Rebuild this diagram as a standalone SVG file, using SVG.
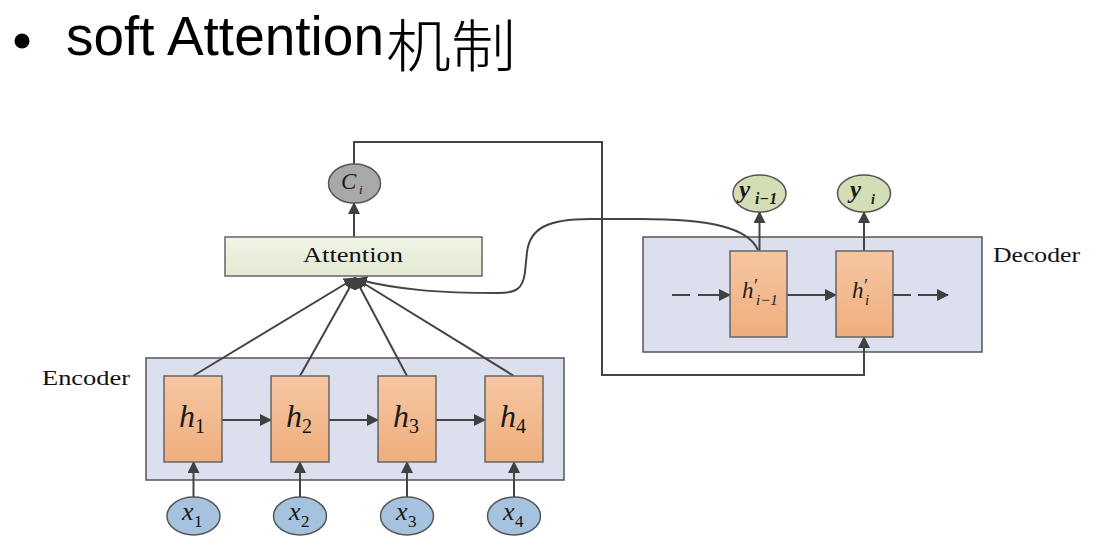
<svg xmlns="http://www.w3.org/2000/svg" width="1116" height="552" viewBox="0 0 1116 552">
<style>
  .ln{fill:none;stroke:#444;stroke-width:2}
  .ar{fill:none;stroke:#444;stroke-width:2;marker-end:url(#ah)}
  .panel{fill:#dce0ee;stroke:#555;stroke-width:1.5}
  .hbox{fill:url(#gOr);stroke:#666;stroke-width:1.5}
  .lab{font-family:"Liberation Serif",serif;fill:#111}
  .it{font-family:"Liberation Serif",serif;font-style:italic;fill:#1a1a1a}
</style>
<defs>
  <marker id="ah" viewBox="0 0 12 12" refX="11" refY="6" markerWidth="12" markerHeight="12" markerUnits="userSpaceOnUse" orient="auto">
    <path d="M0,0 L12,6 L0,12 Z" fill="#404040"/>
  </marker>
  <linearGradient id="gOr" x1="0" y1="0" x2="0" y2="1">
    <stop offset="0" stop-color="#f6c6a2"/>
    <stop offset="1" stop-color="#efae7d"/>
  </linearGradient>
  <linearGradient id="gAtt" x1="0" y1="0" x2="0" y2="1">
    <stop offset="0" stop-color="#f1f4e6"/>
    <stop offset="1" stop-color="#e3e9d2"/>
  </linearGradient>
</defs>
<rect width="1116" height="552" fill="#ffffff"/>

<g id="title">
  <circle cx="22" cy="41" r="7.5" fill="#000"/>
  <text x="66" y="55" font-family="'Liberation Sans',sans-serif" font-size="55" fill="#000" textLength="318" lengthAdjust="spacingAndGlyphs">soft Attention</text>
  <text x="386" y="67" font-family="'Noto Sans CJK SC',sans-serif" font-size="57" font-weight="300" fill="#000" textLength="130" lengthAdjust="spacingAndGlyphs">机制</text>
</g>

<g id="encoder">
  <rect class="panel" x="146" y="358" width="418" height="122"/>
  <text class="lab" x="42" y="385" font-size="20" textLength="88" lengthAdjust="spacingAndGlyphs">Encoder</text>
</g>
<g id="decoder">
  <rect class="panel" x="643" y="237" width="339" height="115"/>
  <text class="lab" x="993" y="262" font-size="20" textLength="87" lengthAdjust="spacingAndGlyphs">Decoder</text>
</g>

<g id="connectors">
  <line class="ar" x1="193.5" y1="497" x2="193.5" y2="462"/>
  <line class="ar" x1="300" y1="497" x2="300" y2="462"/>
  <line class="ar" x1="407" y1="497" x2="407" y2="462"/>
  <line class="ar" x1="514" y1="497" x2="514" y2="462"/>
  <line class="ar" x1="222" y1="420" x2="271" y2="420"/>
  <line class="ar" x1="329" y1="420" x2="378" y2="420"/>
  <line class="ar" x1="436" y1="420" x2="485" y2="420"/>
  <line class="ar" x1="193" y1="376" x2="355" y2="278"/>
  <line class="ar" x1="300" y1="376" x2="355" y2="278"/>
  <line class="ar" x1="407" y1="376" x2="355" y2="278"/>
  <line class="ar" x1="514" y1="376" x2="355" y2="278"/>
  <line class="ar" x1="354" y1="237" x2="354" y2="203"/>
  <path class="ar" d="M354,164 L354,142 L602,142 L602,375 L864,375 L864,337"/>
  <path class="ar" d="M758,250 C748,228 712,219 640,219 L590,219 C548,219 530,228 527,252 L525,272 C523,289 516,293 498,293 C440,293 398,290 356,279"/>
  <line class="ln" x1="672" y1="295" x2="690" y2="295"/>
  <line class="ar" x1="698" y1="295" x2="730" y2="295"/>
  <line class="ar" x1="787" y1="295" x2="836" y2="295"/>
  <line class="ln" x1="893" y1="295" x2="911" y2="295"/>
  <line class="ar" x1="918" y1="295" x2="948" y2="295"/>
  <line class="ar" x1="759.5" y1="251" x2="759.5" y2="212"/>
  <line class="ar" x1="864" y1="251" x2="864" y2="212"/>
</g>

<g id="attention">
  <rect x="225" y="237" width="257" height="39" fill="url(#gAtt)" stroke="#666" stroke-width="1.5"/>
  <text class="lab" x="303" y="262" font-size="21" textLength="100" lengthAdjust="spacingAndGlyphs">Attention</text>
</g>

<g id="c_i">
  <ellipse cx="354.5" cy="183.5" rx="26" ry="19.5" fill="#a8a8a8" stroke="#555" stroke-width="1.5"/>
  <text class="it" x="341" y="189" font-size="23">C</text>
  <text class="it" x="359" y="194" font-size="13">i</text>
</g>

<g id="h1"><rect class="hbox" x="164" y="376" width="58" height="86"/><text class="it" x="179" y="427" font-size="32">h</text><text class="lab" x="195" y="433" font-size="20">1</text></g>
<g id="h2"><rect class="hbox" x="271" y="376" width="58" height="86"/><text class="it" x="286" y="427" font-size="32">h</text><text class="lab" x="302" y="433" font-size="20">2</text></g>
<g id="h3"><rect class="hbox" x="378" y="376" width="58" height="86"/><text class="it" x="393" y="427" font-size="32">h</text><text class="lab" x="409" y="433" font-size="20">3</text></g>
<g id="h4"><rect class="hbox" x="485" y="376" width="58" height="86"/><text class="it" x="500" y="427" font-size="32">h</text><text class="lab" x="516" y="433" font-size="20">4</text></g>

<g id="x1"><ellipse cx="193.5" cy="516" rx="26.5" ry="19" fill="#a5c2df" stroke="#555" stroke-width="1.5"/><text class="it" x="182" y="520" font-size="26">x</text><text class="lab" x="194" y="527" font-size="17">1</text></g>
<g id="x2"><ellipse cx="300" cy="516" rx="26.5" ry="19" fill="#a5c2df" stroke="#555" stroke-width="1.5"/><text class="it" x="289" y="520" font-size="26">x</text><text class="lab" x="301" y="527" font-size="17">2</text></g>
<g id="x3"><ellipse cx="407" cy="516" rx="26.5" ry="19" fill="#a5c2df" stroke="#555" stroke-width="1.5"/><text class="it" x="396" y="520" font-size="26">x</text><text class="lab" x="408" y="527" font-size="17">3</text></g>
<g id="x4"><ellipse cx="514" cy="516" rx="26.5" ry="19" fill="#a5c2df" stroke="#555" stroke-width="1.5"/><text class="it" x="503" y="520" font-size="26">x</text><text class="lab" x="515" y="527" font-size="17">4</text></g>

<g id="hd1"><rect class="hbox" x="730" y="251" width="57" height="86"/><text class="it" x="742" y="298" font-size="23">h</text><text class="it" x="753" y="292" font-size="18">′</text><text class="it" x="756" y="305" font-size="15">i−1</text></g>
<g id="hd2"><rect class="hbox" x="836" y="251" width="57" height="86"/><text class="it" x="852" y="298" font-size="23">h</text><text class="it" x="863" y="292" font-size="18">′</text><text class="it" x="865" y="305" font-size="15">i</text></g>

<g id="y_prev"><ellipse cx="759.5" cy="193.5" rx="26.5" ry="18.5" fill="#d3deb4" stroke="#555" stroke-width="1.5"/><text class="it" x="739" y="198" font-size="25" font-weight="bold">y</text><text class="it" x="755" y="204" font-size="16" font-weight="bold">i−1</text></g>
<g id="y_cur"><ellipse cx="864" cy="193.5" rx="26.5" ry="18.5" fill="#d3deb4" stroke="#555" stroke-width="1.5"/><text class="it" x="850" y="198" font-size="25" font-weight="bold">y</text><text class="it" x="871" y="204" font-size="14" font-weight="bold">i</text></g>
</svg>
